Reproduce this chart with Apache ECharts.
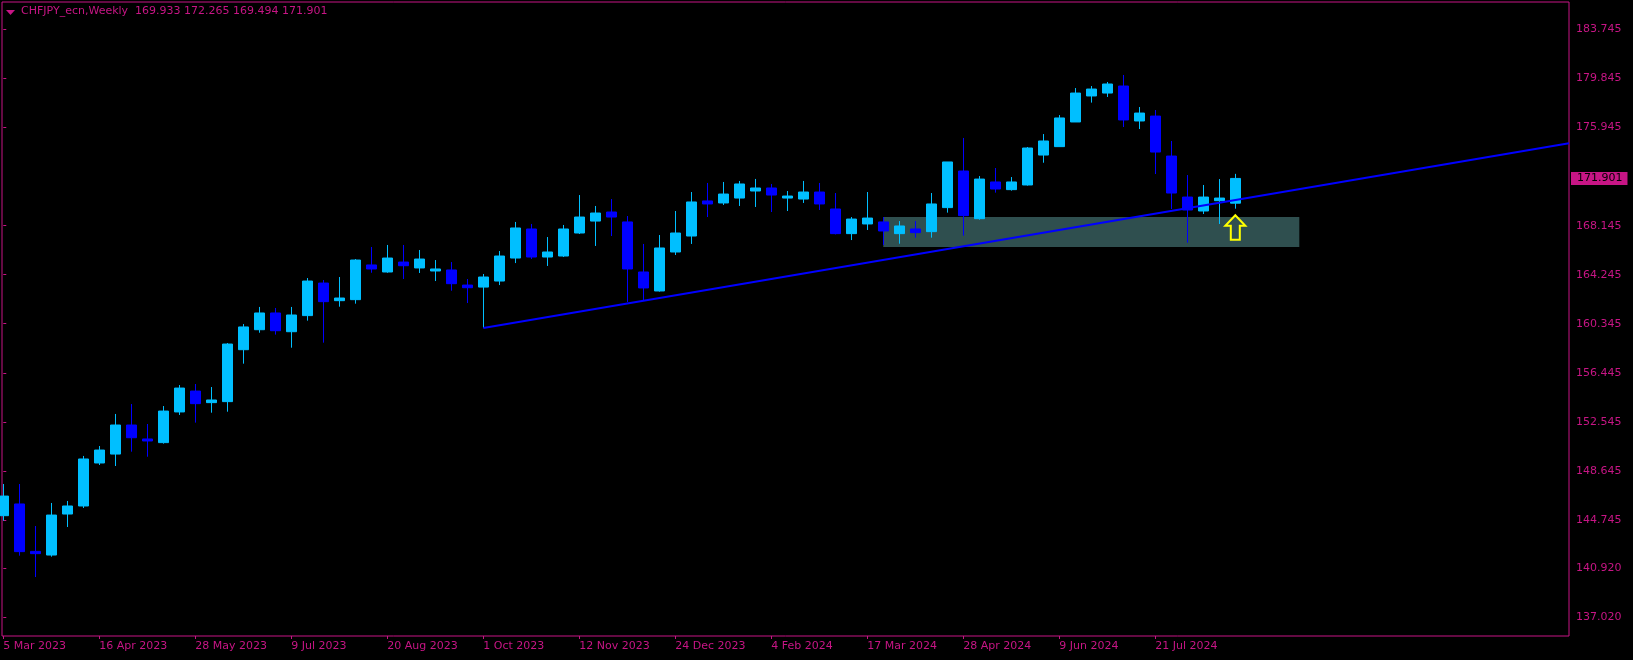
<!DOCTYPE html>
<html>
<head>
<meta charset="utf-8">
<style>
  html, body { margin: 0; padding: 0; background: #000; }
  #chart { width: 1633px; height: 660px; }
</style>
<script src="https://cdn.jsdelivr.net/npm/echarts@6/dist/echarts.min.js"></script>
</head>
<body>
<div id="chart"></div>
<script>
// ---- Data (weekly CHFJPY candles, bar index 0 = 5 Mar 2023) ----
const opens = [145.08,146.01,142.24,141.95,145.21,145.85,149.27,149.98,152.29,151.18,
  150.89,153.33,154.99,154.07,154.15,158.28,159.87,161.20,159.71,160.99,
  163.58,162.18,162.26,165.02,164.46,165.25,164.78,164.54,164.62,163.42,
  163.26,163.74,165.57,167.88,165.65,165.73,167.56,168.51,169.23,168.44,
  164.46,162.95,166.05,167.32,170.11,169.95,170.34,170.90,171.14,170.34,
  170.26,170.82,169.47,167.51,168.28,168.44,167.51,167.88,167.67,169.58,
  172.49,168.70,171.62,171.01,171.38,173.76,174.43,176.39,178.46,178.69,
  179.25,176.47,176.86,173.68,170.42,169.31,170.13,169.933];
const closes = [146.64,142.22,142.06,145.13,145.85,149.59,150.30,152.29,151.28,151.02,
  153.40,155.23,153.99,154.28,158.73,160.09,161.20,159.79,161.04,163.74,
  162.10,162.39,165.41,164.70,165.57,164.96,165.49,164.70,163.53,163.21,
  164.06,165.73,167.96,165.65,166.05,167.88,168.83,169.15,168.83,164.70,
  163.19,166.37,167.56,170.03,169.87,170.66,171.46,171.14,170.58,170.50,
  170.82,169.87,167.51,168.67,168.75,167.72,168.12,167.59,169.87,173.21,
  168.94,171.85,171.06,171.62,174.32,174.88,176.71,178.69,179.01,179.41,
  176.55,177.10,174.00,170.74,169.39,170.42,170.34,171.901];
const lows = [144.68,141.90,140.20,141.82,144.18,145.69,149.11,149.03,150.17,149.77,
  150.81,153.09,152.48,153.27,153.35,157.17,159.63,159.48,158.44,160.59,
  158.84,161.70,161.94,164.40,164.40,163.90,164.38,163.74,162.97,161.99,
  160.00,163.42,165.17,165.49,164.94,165.65,167.48,166.53,167.32,162.07,
  162.23,162.90,165.81,166.69,168.83,169.79,169.71,169.63,169.23,169.31,
  169.95,169.39,167.45,167.00,167.80,166.60,166.71,167.19,167.19,169.18,
  167.35,168.62,170.77,170.93,171.33,173.15,174.43,176.39,177.93,178.38,
  175.99,175.83,172.25,169.47,166.79,169.07,168.28,169.494];
const highs = [147.60,147.60,144.26,146.09,146.25,149.83,150.62,153.17,153.96,152.37,
  153.80,155.47,155.55,155.31,158.81,160.32,161.68,161.60,161.68,163.98,
  163.82,164.06,165.49,166.45,166.61,166.61,166.21,165.41,165.25,163.90,
  164.30,166.13,168.44,168.28,167.24,168.20,170.58,169.71,170.26,168.91,
  166.69,167.40,169.31,170.82,171.54,171.62,171.70,171.86,171.46,170.90,
  171.70,171.54,170.74,168.83,170.82,168.83,168.51,168.51,170.74,173.21,
  175.12,172.09,172.73,172.01,174.40,175.43,176.94,179.09,179.25,179.57,
  180.13,177.58,177.34,174.88,172.17,171.38,171.85,172.265];

// x-axis tick labels (bar index -> label)
const xTickIndex  = [0, 6, 12, 18, 24, 30, 36, 42, 48, 54, 60, 66, 72];
const xTickLabels = ['5 Mar 2023','16 Apr 2023','28 May 2023','9 Jul 2023','20 Aug 2023',
  '1 Oct 2023','12 Nov 2023','24 Dec 2023','4 Feb 2024','17 Mar 2024','28 Apr 2024',
  '9 Jun 2024','21 Jul 2024'];
// y-axis tick labels
const yTickValues = [137.020, 140.920, 144.745, 148.645, 152.545, 156.445, 160.345,
  164.245, 168.145, 175.945, 179.845, 183.745];

// trend line anchors [barIndex, price] (drawn as a ray to the right)
const trendAnchors = [[30, 160.00], [77, 170.18]];
// support zone [fromBar, toBar, lowPrice, highPrice]
const zone = [55, 81, 166.45, 168.83];
// buy arrow [barIndex, price]
const arrowPoint = [77, 169.05];
// last price
const lastPrice = 171.901;
const titleText = 'CHFJPY_ecn,Weekly  169.933 172.265 169.494 171.901';

// ---- Chart ----
const FG = '#C71585';
const FONT = 'DejaVu Sans';
const X_MIN = -0.081, X_MAX = 97.856;
const Y_MIN = 135.511, Y_MAX = 185.932;

const candleData = opens.map((o, i) => [i, o, closes[i], lows[i], highs[i]]);
const slope = (trendAnchors[1][1] - trendAnchors[0][1]) / (trendAnchors[1][0] - trendAnchors[0][0]);
const trendData = [trendAnchors[0], [X_MAX, trendAnchors[0][1] + slope * (X_MAX - trendAnchors[0][0])]];

const chart = echarts.init(document.getElementById('chart'), null, { renderer: 'canvas' });
chart.setOption({
  animation: false,
  backgroundColor: '#000',
  grid: {
    left: 2, top: 2, right: 64, bottom: 24,
    show: true, borderColor: FG, borderWidth: 1, backgroundColor: '#000'
  },
  graphic: [
    { type: 'polygon', shape: { points: [[6, 10], [15, 10], [10.5, 15]] }, style: { fill: FG } },
    { type: 'text', left: 21, top: 6, style: { text: titleText, fill: FG, font: '11px "DejaVu Sans"' } }
  ],
  xAxis: {
    type: 'value', min: X_MIN, max: X_MAX,
    axisLine: { show: false },
    splitLine: { show: false },
    axisTick: { show: true, customValues: xTickIndex, length: 3, lineStyle: { color: FG } },
    axisLabel: {
      customValues: xTickIndex,
      formatter: v => xTickLabels[xTickIndex.indexOf(Math.round(v))] || '',
      align: 'left', color: FG, fontFamily: FONT, fontSize: 11, margin: 5
    }
  },
  yAxis: {
    type: 'value', position: 'right', min: Y_MIN, max: Y_MAX, scale: true,
    axisLine: { show: false },
    splitLine: { show: false },
    axisTick: { show: true, customValues: yTickValues, length: 3, lineStyle: { color: FG } },
    axisLabel: {
      customValues: yTickValues,
      formatter: v => v.toFixed(3),
      color: FG, fontFamily: FONT, fontSize: 11, margin: 7
    }
  },
  series: [
    {
      type: 'custom', z: 1, clip: true,
      data: [zone],
      renderItem: (params, api) => {
        const p1 = api.coord([api.value(0), api.value(3)]);
        const p2 = api.coord([api.value(1), api.value(2)]);
        return { type: 'rect', shape: { x: p1[0], y: p1[1], width: p2[0] - p1[0], height: p2[1] - p1[1] },
                 style: { fill: '#2F4F4F' } };
      }
    },
    {
      type: 'candlestick', z: 2, clip: true,
      data: candleData,
      encode: { x: 0, y: [1, 2, 3, 4] },
      barWidth: 10,
      itemStyle: { color: '#00BFFF', color0: '#0000FF', borderColor: '#00BFFF', borderColor0: '#0000FF', borderWidth: 1 }
    },
    {
      type: 'line', z: 3, clip: true, silent: true,
      data: trendData, showSymbol: false,
      lineStyle: { color: '#0000FF', width: 2 }
    },
    {
      type: 'custom', z: 4, clip: true,
      data: [arrowPoint],
      renderItem: (params, api) => {
        const p = api.coord([api.value(0), api.value(1)]);
        const x = p[0], y = p[1];
        const pts = [[0, 1], [10, 11.5], [4.5, 11.5], [4.5, 25.5], [-4.5, 25.5], [-4.5, 11.5], [-10, 11.5]]
          .map(q => [x + q[0], y + q[1]]);
        return { type: 'polygon', shape: { points: pts },
                 style: { fill: 'none', stroke: '#FFFF00', lineWidth: 2, lineJoin: 'miter' } };
      }
    },
    {
      // last-price marker on the price scale
      type: 'custom', z: 10, clip: false, silent: true,
      data: [[X_MAX, lastPrice]],
      renderItem: (params, api) => {
        const p = api.coord([api.value(0), api.value(1)]);
        return {
          type: 'text', x: p[0] + 2, y: p[1],
          style: {
            text: api.value(1).toFixed(3), fill: '#000', font: '11px "DejaVu Sans"',
            verticalAlign: 'middle', align: 'left',
            backgroundColor: FG, padding: [1, 5, 1, 6]
          }
        };
      }
    }
  ]
});
</script>
</body>
</html>
